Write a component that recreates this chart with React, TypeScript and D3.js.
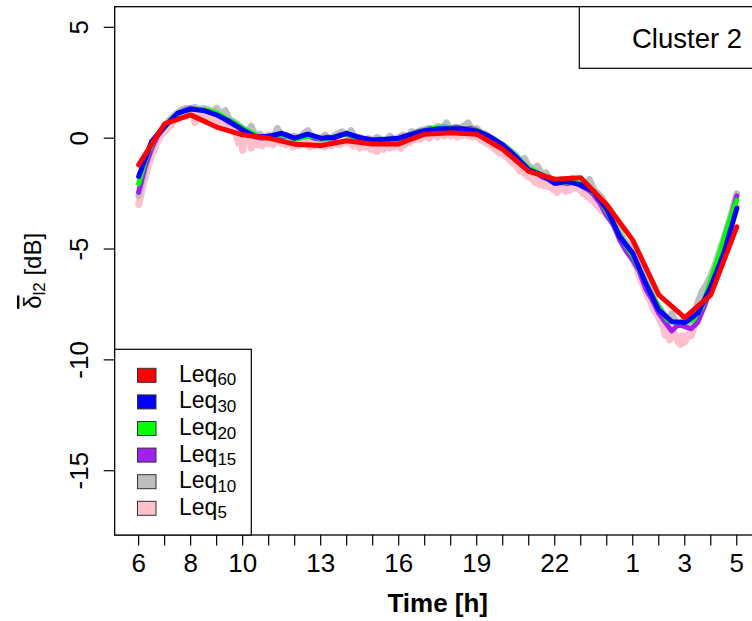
import React from 'react';
import * as d3 from 'd3';

// hourly / sub-hourly mean deviations, starting at 6 h, running to 5 h next day (29)
const leq60 = [-1.2, 0.65, 1.05, 0.5, 0.15, 0.0, -0.27, -0.33, -0.12, -0.26, -0.26, 0.18, 0.24, 0.18, -0.5, -1.5, -1.85, -1.78, -3.0, -4.6, -7.07, -8.1, -7.07, -4.0];

const leq30 = [
	-1.73, -0.15, 0.52, 1.13, 1.31, 1.25, 1.05, 0.75, 0.37, 0.07, 0.07, 0.22, 0.0, 0.18, 0.0, 0.03,
	0.22, 0.03, -0.08, -0.05, 0.0, 0.18, 0.34, 0.42, 0.42, 0.42, 0.33, 0.07, -0.3, -0.83, -1.43, -1.66,
	-2.03, -1.96, -2.11, -2.41, -3.2, -4.44, -5.19, -6.55, -7.75, -8.28, -8.32, -7.9, -6.7, -5.19, -3.16,
];

const leq20 = [
	-2.05, -0.7, 0.1, 0.5, 0.95, 1.2, 1.3, 1.3, 1.25, 1.15, 0.9, 0.7, 0.45, 0.25, 0.05, 0.05, 0.15, 0.1,
	-0.05, 0.05, 0.1, -0.05, 0.0, 0.1, 0.2, 0.05, -0.05, -0.1, -0.05, -0.05, 0.0, 0.1, 0.25, 0.35, 0.45, 0.5,
	0.45, 0.45, 0.4, 0.35, 0.15, -0.05, -0.3, -0.6, -1.0, -1.35, -1.55, -1.75, -1.95, -2.0, -1.95, -2.05,
	-2.3, -2.6, -3.3, -4.0, -4.7, -5.3, -6.1, -6.9, -7.6, -8.2, -8.3, -8.3, -8.2, -7.6, -6.4, -5.2, -3.9, -2.8,
];

const leq15 = [
	-2.45, -1.3, -0.45, 0.15, 0.5, 0.85, 1.1, 1.25, 1.35, 1.3, 1.25, 1.2, 1.05, 0.9, 0.7, 0.55,
	0.35, 0.2, 0.05, 0.0, 0.1, 0.15, 0.05, 0.1, -0.05, 0.05, 0.1, 0.0, -0.05, 0.05, 0.0, 0.15,
	0.2, 0.05, 0.0, -0.1, -0.1, -0.05, -0.1, 0.0, -0.05, 0.1, 0.15, 0.3, 0.35, 0.45, 0.4, 0.5,
	0.45, 0.5, 0.4, 0.45, 0.35, 0.2, 0.05, -0.15, -0.35, -0.6, -0.85, -1.15, -1.45, -1.5, -1.75, -1.85,
	-2.05, -2.0, -2.05, -1.95, -2.15, -2.3, -2.55, -2.95, -3.5, -3.9, -4.6, -5.1, -5.5, -6.0, -6.8, -7.3,
	-7.9, -8.3, -8.7, -8.4, -8.5, -8.6, -8.3, -7.6, -6.7, -5.8, -4.8, -3.7, -2.6,
];

const leq10 = [
	-2.6, -1.8, -1.0, -0.5, 0.0, 0.3, 0.55, 0.8, 1.0, 1.15, 1.3, 1.35,
	1.35, 1.4, 1.3, 1.35, 1.3, 1.2, 1.35, 1.1, 1.25, 0.85, 0.75, 0.6,
	0.45, 0.3, 0.55, 0.1, 0.2, 0.05, 0.15, 0.0, 0.45, 0.1, 0.15, 0.05,
	0.1, -0.05, 0.2, 0.35, 0.1, 0.05, 0.0, 0.15, -0.05, 0.1, 0.2, 0.3,
	0.15, 0.35, 0.0, 0.05, -0.1, 0.0, -0.1, 0.05, -0.05, -0.1, 0.1, -0.05,
	0.05, 0.15, 0.05, 0.3, 0.25, 0.35, 0.4, 0.45, 0.4, 0.55, 0.45, 0.7,
	0.4, 0.5, 0.45, 0.55, 0.7, 0.4, 0.45, 0.25, 0.2, 0.05, -0.05, -0.2,
	-0.3, -0.45, -0.6, -0.75, -1.0, -0.9, -1.25, -1.4, -1.25, -1.6, -1.55, -1.85,
	-1.9, -1.95, -1.85, -1.9, -1.8, -1.9, -1.85, -2.1, -1.85, -2.3, -2.5, -2.7,
	-3.1, -3.3, -3.8, -4.2, -4.6, -4.8, -5.1, -5.6, -5.9, -6.4, -6.8, -7.3,
	-7.6, -7.9, -8.2, -7.9, -8.3, -8.4, -8.1, -8.3, -8.0, -7.4, -6.9, -6.6,
	-6.2, -5.7, -5.1, -4.5, -3.9, -3.2, -2.5,
];

const leq5 = [
	-3.0, -2.6, -2.1, -1.8, -1.4, -1.1, -0.8, -0.6, -0.3, -0.1, 0.1, 0.2,
	0.3, 0.4, 0.55, 0.6, 0.75, 0.8, 0.95, 1.0, 1.05, 1.1, 1.0, 1.15,
	1.15, 1.2, 0.7, 1.1, 1.15, 1.05, 1.1, 1.0, 0.95, 1.0, 0.9, 0.85,
	0.9, 0.7, 0.8, 0.65, 0.5, 0.6, 0.4, 0.45, 0.3, 0.2, -0.2, 0.25,
	-0.55, 0.1, -0.1, 0.05, -0.45, -0.2, -0.1, -0.3, -0.15, -0.35, -0.2, -0.1,
	-0.25, -0.1, -0.3, -0.15, 0.0, -0.2, -0.25, -0.1, -0.3, -0.15, -0.2, -0.4,
	-0.3, -0.2, -0.35, -0.1, -0.25, -0.15, -0.3, -0.4, -0.2, -0.35, -0.25, -0.3,
	-0.35, -0.25, -0.4, -0.3, -0.2, -0.35, -0.15, -0.25, -0.1, -0.3, -0.2, -0.15,
	-0.2, -0.1, -0.25, -0.35, -0.2, -0.3, -0.45, -0.3, -0.35, -0.4, -0.3, -0.5,
	-0.4, -0.55, -0.6, -0.45, -0.35, -0.5, -0.4, -0.3, -0.45, -0.35, -0.4, -0.3,
	-0.35, -0.45, -0.25, -0.3, -0.15, -0.2, -0.05, -0.1, 0.0, 0.05, -0.05, 0.1,
	0.05, 0.1, 0.0, 0.15, 0.1, 0.2, 0.05, 0.15, 0.2, 0.1, 0.2, 0.15,
	0.1, 0.2, 0.15, 0.05, 0.2, 0.1, 0.15, 0.2, 0.1, 0.15, 0.05, 0.1,
	0.05, 0.0, -0.1, -0.05, -0.2, -0.25, -0.3, -0.4, -0.45, -0.55, -0.6, -0.7,
	-0.65, -0.8, -0.85, -0.95, -1.05, -1.15, -1.2, -1.35, -1.5, -1.45, -1.6, -1.65,
	-1.75, -1.7, -1.9, -2.0, -1.85, -2.1, -1.95, -2.15, -2.05, -2.2, -2.0, -2.3,
	-2.2, -2.45, -2.1, -2.3, -2.15, -2.4, -2.2, -2.35, -2.1, -2.25, -2.15, -2.3,
	-2.35, -2.5, -2.4, -2.65, -2.55, -2.8, -2.75, -3.0, -2.95, -3.2, -3.3, -3.35,
	-3.45, -3.5, -3.7, -3.85, -4.0, -4.2, -4.35, -4.6, -4.8, -5.0, -5.15, -5.3,
	-5.45, -5.7, -5.9, -6.2, -6.45, -6.7, -6.9, -7.15, -7.3, -7.6, -7.8, -7.9,
	-8.1, -8.3, -8.5, -8.9, -8.7, -9.1, -9.0, -8.8, -8.9, -9.2, -9.3, -8.9,
	-9.2, -9.0, -8.8, -8.9, -8.6, -8.3, -8.2, -7.9, -7.6, -7.5, -7.2, -7.0,
	-6.8, -6.5, -6.2, -5.9, -5.6, -5.3, -5.0, -4.7, -4.4, -4.1, -3.7, -3.4,
	-3.1,
];

const xTickHours = [6, 8, 10, 13, 16, 19, 22, 25, 27, 29];
const xTickLabels = ['6', '8', '10', '13', '16', '19', '22', '1', '3', '5'];
const yTicks = [-15, -10, -5, 0, 5];

// drawing order: finest resolution at the bottom
const series = [
	{ sub: '5', values: leq5, perHour: 12, color: '#FFC0CB', width: 7 },
	{ sub: '10', values: leq10, perHour: 6, color: '#BEBEBE', width: 6.5 },
	{ sub: '15', values: leq15, perHour: 4, color: '#A020F0', width: 5 },
	{ sub: '20', values: leq20, perHour: 3, color: '#00FF00', width: 5 },
	{ sub: '30', values: leq30, perHour: 2, color: '#0000FF', width: 5 },
	{ sub: '60', values: leq60, perHour: 1, color: '#FF0000', width: 5 },
];

const font = "'Liberation Sans', Arial, Helvetica, sans-serif";

const App = () => {
	const svgWidth = 752;
	const svgHeight = 621;
	const plot = { left: 114.7, right: 760.7, top: 6.7, bottom: 535 };

	const xScale = d3.scaleLinear().domain([5.08, 29.92]).range([plot.left, plot.right]);
	const yScale = d3.scaleLinear().domain([-17.9, 5.93]).range([plot.bottom, plot.top]);

	const hourTicks = d3.range(6, 30);
	const legendRows = [...series].reverse();

	return (
		<svg
			width={svgWidth}
			height={svgHeight}
			style={{ position: 'absolute', left: 0, top: 0, background: 'white' }}
			fontFamily={font}
		>
			{/* --- LINES --- */}
			<g className='lines'>
				{series.map((s) => {
					const line = d3
						.line<number>()
						.x((d, i) => xScale(6 + i / s.perHour))
						.y((d) => yScale(d));
					return (
						<path
							key={s.sub}
							d={line(s.values) || ''}
							fill='none'
							stroke={s.color}
							strokeWidth={s.width}
							strokeLinejoin='round'
							strokeLinecap='round'
						/>
					);
				})}
			</g>

			{/* --- BOX --- */}
			<rect
				x={plot.left}
				y={plot.top}
				width={plot.right - plot.left}
				height={plot.bottom - plot.top}
				fill='none'
				stroke='black'
				strokeWidth={1.3}
			/>

			{/* --- X AXIS --- */}
			<g className='axis-bottom'>
				{hourTicks.map((h) => (
					<line key={h} x1={xScale(h)} x2={xScale(h)} y1={plot.bottom} y2={plot.bottom + 10.5} stroke='black' strokeWidth={1.2} />
				))}
				{xTickHours.map((h, i) => (
					<text key={h} x={xScale(h)} y={572} textAnchor='middle' fontSize={26}>
						{xTickLabels[i]}
					</text>
				))}
				<text x={(plot.left + plot.right) / 2} y={612} textAnchor='middle' fontSize={26} fontWeight='bold'>
					Time [h]
				</text>
			</g>

			{/* --- Y AXIS --- */}
			<g className='axis-left'>
				{yTicks.map((v) => (
					<g key={v}>
						<line x1={plot.left - 11} x2={plot.left} y1={yScale(v)} y2={yScale(v)} stroke='black' strokeWidth={1.2} />
						<text transform={`translate(88,${yScale(v)}) rotate(-90)`} textAnchor='middle' fontSize={26}>
							{v}
						</text>
					</g>
				))}
				<text transform={`translate(41,${(plot.top + plot.bottom) / 2}) rotate(-90)`} textAnchor='middle' fontSize={24}>
					<tspan style={{ textDecoration: 'overline' }}>δ</tspan>
					<tspan fontSize={17} dy={4}>l2</tspan>
					<tspan dy={-4}> [dB]</tspan>
				</text>
			</g>

			{/* --- CLUSTER LABEL --- */}
			<rect x={579.3} y={plot.top} width={200} height={68.3 - plot.top} fill='white' stroke='black' strokeWidth={1.2} />
			<text x={632} y={47.5} fontSize={27.5}>
				Cluster 2
			</text>

			{/* --- LEGEND --- */}
			<g className='legend'>
				<rect x={plot.left} y={349.3} width={251.3 - plot.left} height={plot.bottom - 349.3} fill='white' stroke='black' strokeWidth={1.2} />
				{legendRows.map((s, i) => {
					const cy = 375.3 + i * 26.6;
					return (
						<g key={s.sub}>
							<rect x={137.5} y={cy - 7} width={18.5} height={14} fill={s.color} stroke='#333' strokeWidth={1} />
							<text x={179} y={cy + 6.5} fontSize={23}>
								Leq
								<tspan fontSize={17} dy={3.5}>{s.sub}</tspan>
							</text>
						</g>
					);
				})}
			</g>
		</svg>
	);
};

export default App;
